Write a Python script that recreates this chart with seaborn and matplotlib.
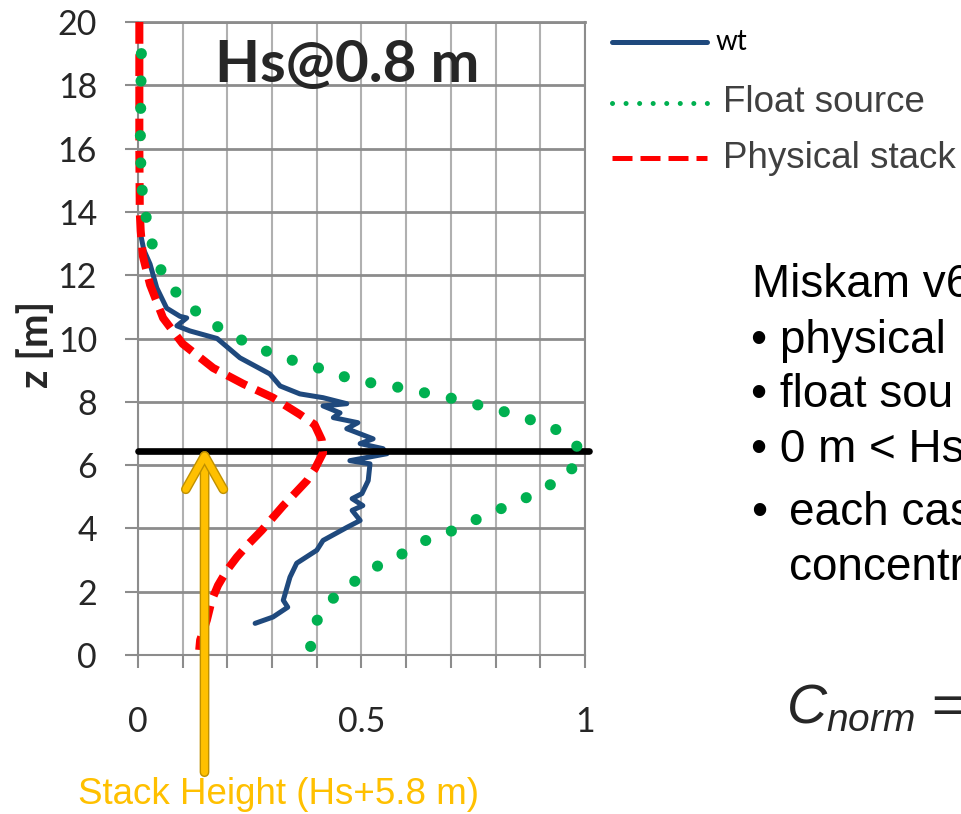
import numpy as np
import pandas as pd
import matplotlib.pyplot as plt
import matplotlib.patheffects as pe
from matplotlib.lines import Line2D
import seaborn as sns

sns.set_style("white")
plt.rcParams["font.family"] = ["Lato", "DejaVu Sans"]
plt.rcParams["mathtext.fontset"] = "custom"
plt.rcParams["mathtext.it"] = "Liberation Sans:italic"
plt.rcParams["mathtext.rm"] = "Liberation Sans"

# profiles: normalised concentration vs height z [m]
wt_c = [0.005, 0.013, 0.027, 0.042, 0.064, 0.094, 0.109, 0.087, 0.116, 0.177, 0.228, 0.295,
        0.318, 0.362, 0.414, 0.467, 0.414, 0.452, 0.437, 0.492, 0.467, 0.526, 0.497, 0.548,
        0.557, 0.474, 0.519, 0.515, 0.501, 0.479, 0.503, 0.479, 0.497, 0.467, 0.414, 0.40,
        0.355, 0.34, 0.325, 0.335, 0.302, 0.262]
wt_z = [13.35, 12.8, 12.35, 11.6, 10.96, 10.7, 10.65, 10.4, 10.24, 10.0, 9.39, 8.88,
        8.5, 8.25, 8.13, 7.94, 7.87, 7.65, 7.5, 7.34, 7.15, 6.83, 6.68, 6.52,
        6.36, 6.14, 6.04, 5.51, 5.1, 4.94, 4.72, 4.57, 4.25, 4.03, 3.62, 3.31,
        2.9, 2.46, 1.73, 1.51, 1.2, 1.0]

float_c = [0.008, 0.005, 0.008, 0.012, 0.024, 0.039, 0.062, 0.103, 0.15, 0.2, 0.255, 0.312,
           0.369, 0.427, 0.486, 0.545, 0.604, 0.662, 0.72, 0.781, 0.839, 0.897, 0.953, 0.993,
           0.964, 0.913, 0.859, 0.803, 0.747, 0.694, 0.638, 0.582, 0.53, 0.479, 0.434, 0.396, 0.385]
float_z = [19.6, 16.0, 14.9, 14.3, 13.4, 12.6, 11.8, 11.2, 10.6, 10.2, 9.77, 9.47,
           9.2, 8.98, 8.66, 8.56, 8.4, 8.22, 8.06, 7.82, 7.62, 7.34, 7.02, 6.43,
           5.73, 5.3, 4.9, 4.57, 4.22, 3.87, 3.59, 3.12, 2.77, 2.27, 1.76, 1.0, 0.18]

phys_c = [0.003, 0.003, 0.004, 0.006, 0.011, 0.027, 0.056, 0.1, 0.168, 0.235, 0.302, 0.362,
          0.395, 0.411, 0.414, 0.396, 0.378, 0.34, 0.325, 0.277, 0.244, 0.221, 0.199, 0.179,
          0.165, 0.154, 0.139, 0.137]
phys_z = [20.0, 16.0, 14.0, 13.4, 12.6, 11.7, 10.65, 9.83, 9.07, 8.57, 8.13, 7.6,
          7.28, 6.8, 6.39, 5.89, 5.51, 4.94, 4.72, 3.94, 3.46, 3.09, 2.68, 2.2,
          1.73, 1.1, 0.47, 0.16]

stack_z = 6.45      # black line
arrow_c, arrow_z = 0.149, 6.6

series_labels = ["wt", "Float source", "Physical stack"]
note_lines = ["Miskam v6", "physical", "float sou", "0 m < Hs", "each cas", "concentr"]

wt = pd.DataFrame({"c": wt_c, "z": wt_z})
flt = pd.DataFrame({"c": float_c, "z": float_z})
phys = pd.DataFrame({"c": phys_c, "z": phys_z})

W, H = 962, 814
fig = plt.figure(figsize=(W / 100, H / 100), dpi=100)
ax = fig.add_axes([138 / W, 159 / H, 447 / W, 633 / H])

grid_col = "#8c8c8c"
ax.set_xlim(0, 1)
ax.set_ylim(0, 20)
ax.set_xticks(np.arange(0, 1.01, 0.1))
ax.set_xticklabels(["0", "", "", "", "", "0.5", "", "", "", "", "1"])
ax.set_yticks(np.arange(0, 21, 2))
ax.xaxis.grid(True, color="#b0b0b0", lw=1.5)
ax.yaxis.grid(True, color=grid_col, lw=2)
for s in ax.spines.values():
    s.set_color(grid_col)
    s.set_linewidth(1.5)
ax.spines["top"].set_linewidth(2)
ax.tick_params(axis="x", direction="out", length=9.5, width=1.5, color=grid_col,
               pad=27, labelsize=24.5, bottom=True)
ax.tick_params(axis="y", direction="out", length=9.5, width=1.5, color=grid_col,
               pad=20, labelsize=24.5, left=True)

sns.lineplot(data=wt, x="c", y="z", sort=False, estimator=None, ax=ax,
             color="#1F497D", lw=3.6, zorder=2)
ax.axhline(stack_z, xmin=0, xmax=1.008, color="black", lw=4.8, zorder=3, clip_on=False)
sns.lineplot(data=phys, x="c", y="z", sort=False, estimator=None, ax=ax,
             color="#FF0000", lw=5.8, linestyle=(0, (2.7, 1.3)), dash_capstyle="butt",
             zorder=4, clip_on=False)

# dotted float-source line: shift the dot phase so a dot sits near the last point
dot_lw, dot_gap = 8, 2.45
pts = ax.transData.transform(np.column_stack([float_c, float_z]))
path_len = np.hypot(*np.diff(pts, axis=0).T).sum()          # pixels
unit = dot_lw * 100 / 72                                   # dash unit in pixels
period = (0.01 + dot_gap) * unit
phase = ((-(path_len - 3)) % period) / unit
sns.lineplot(data=flt, x="c", y="z", sort=False, estimator=None, ax=ax,
             color="#00B050", lw=dot_lw, linestyle=(phase, (0.01, dot_gap)),
             dash_capstyle="round", zorder=4, clip_on=False)

ax.set_xlabel("")
ax.set_ylabel("z [m]", fontsize=29, fontweight="bold", va="center")
ax.yaxis.set_label_coords(-0.228, 0.491)

fig.text(215 / W, 1 - 82 / H, "Hs@0.8 m", fontsize=42, fontweight="bold",
         ha="left", va="baseline")

# stack height arrow
ax.annotate("", xy=(arrow_c, arrow_z), xytext=(204.5, H - 775), textcoords="figure pixels",
            annotation_clip=False,
            arrowprops=dict(arrowstyle="->, head_length=0.8, head_width=0.45",
                            mutation_scale=30, color="#FFC000", lw=5,
                            path_effects=[pe.withStroke(linewidth=7, foreground="#BF9000")]),
            zorder=6)
fig.text(278 / W, 1 - 795 / H, "Stack Height (Hs+5.8 m)", fontsize=26.5,
         family="Liberation Sans", color="#FFC000", ha="center", va="center")

# legend, laid out like the slide's (rows not evenly spaced)
leg_rows = [42, 103, 158]
leg_styles = [dict(color="#1F497D", lw=3.6, solid_capstyle="round"),
              dict(color="#00B050", lw=3.6, linestyle=(0, (0.01, 2.7)), dash_capstyle="round"),
              dict(color="#FF0000", lw=3.6, linestyle=(0, (4.0, 1.6)))]
for i, (row, style, lab) in enumerate(zip(leg_rows, leg_styles, series_labels)):
    fig.add_artist(Line2D([612 / W, 707 / W], [1 - row / H] * 2, transform=fig.transFigure, **style))
    if i == 0:
        fig.text(716 / W, 1 - row / H, lab, fontsize=20, color="black", va="center")
    else:
        fig.text(723 / W, 1 - row / H, lab, fontsize=26.5, family="Liberation Sans",
                 color="#404040", va="center")

# side notes (cut off at the right edge, as in the original slide)
note_font = dict(family="Liberation Sans", fontsize=33, color="black", va="baseline", ha="left")
fig.text(752 / W, 1 - 297 / H, note_lines[0], **note_font)
fig.text(751 / W, 1 - 353 / H, "\u2022 " + note_lines[1], **note_font)
fig.text(751 / W, 1 - 407 / H, "\u2022 " + note_lines[2], **note_font)
fig.text(751 / W, 1 - 462 / H, "\u2022 " + note_lines[3], **note_font)
fig.text(751 / W, 1 - 525 / H, "\u2022", **note_font)
fig.text(789 / W, 1 - 525 / H, note_lines[4], **note_font)
fig.text(789 / W, 1 - 580 / H, note_lines[5], **note_font)
fig.text(786 / W, 1 - 723 / H, r"$C_{norm}$ =", family="Liberation Sans",
         fontsize=40, ha="left", va="baseline")

fig.savefig("out.png", dpi=100)
